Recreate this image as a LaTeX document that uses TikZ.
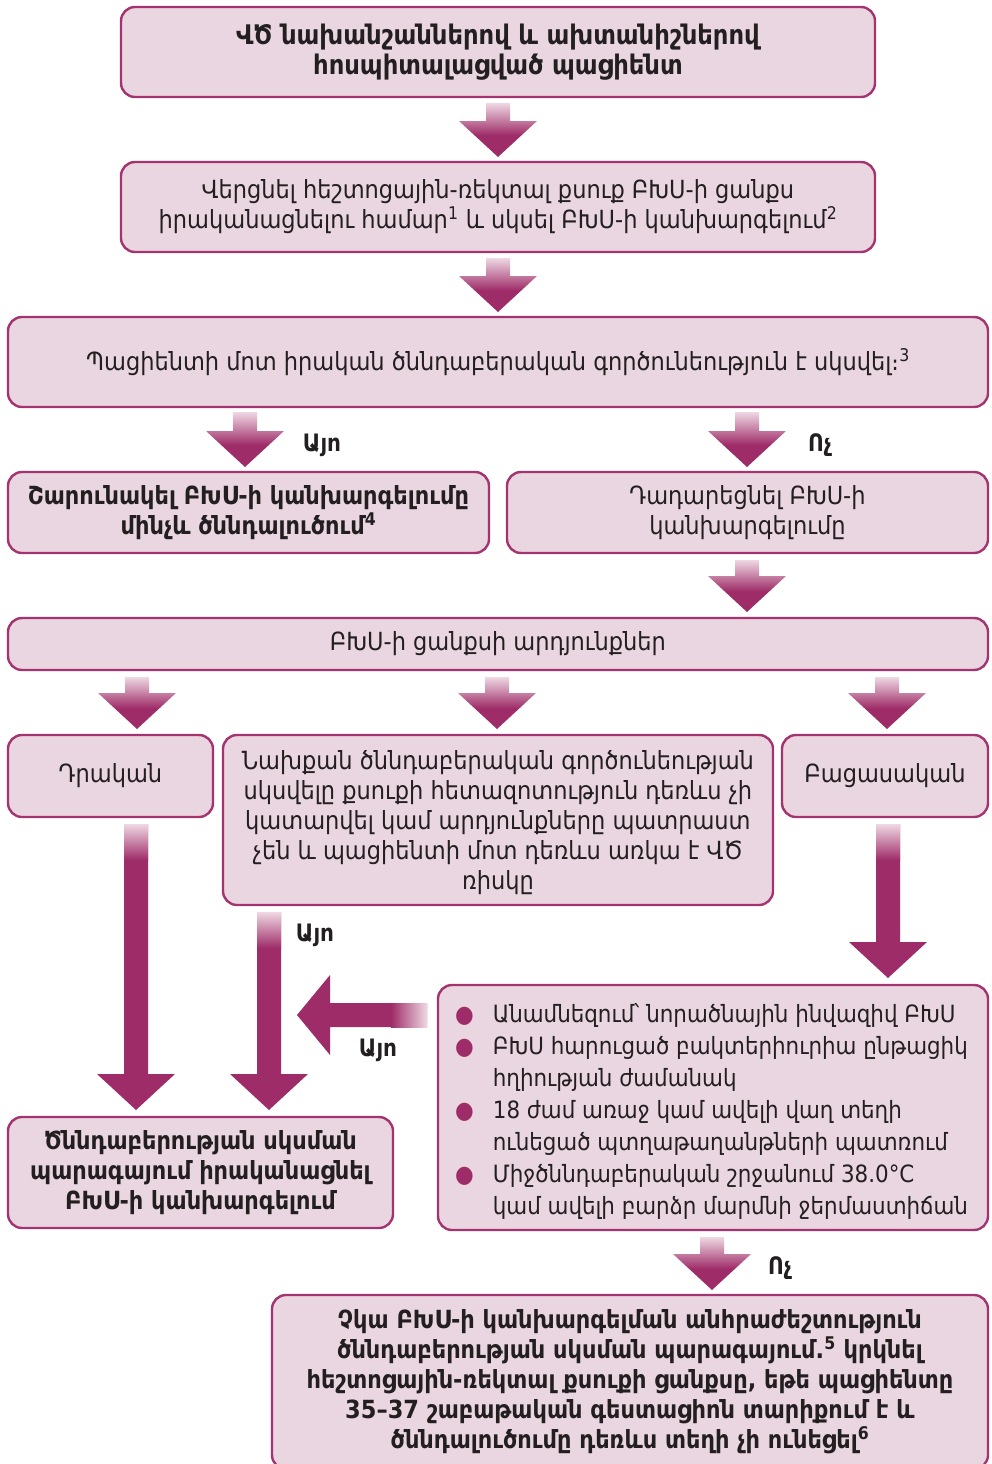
\documentclass[tikz,border=0pt]{standalone}
\usepackage{fontspec}
\setmainfont{DejaVu Sans Condensed}[BoldFont={DejaVu Sans Condensed Bold}]
\usetikzlibrary{calc}
\definecolor{arrcol}{HTML}{9E2C68}
\definecolor{bordcol}{HTML}{A3346F}
\definecolor{fillcol}{HTML}{EAD6E0}
\definecolor{fadecol}{HTML}{EFD8E3}
\definecolor{txtcol}{HTML}{231F20}
\pgfdeclareverticalshading{arrshort}{100bp}{color(0bp)=(arrcol); color(25bp)=(arrcol); color(45bp)=(arrcol); color(75bp)=(fadecol); color(100bp)=(fadecol)}
\newcommand\sups[1]{\textsuperscript{#1}}
\newcommand\shortarr[2]{%
  \shade[shading=arrshort] let \p1=(#1), \p2=(#2) in
    (\x1-12,\y1) -- (\x1+12,\y1) -- (\x1+12,\y2+36) -- (\x1+39,\y2+36) -- (\x1,\y2)
    -- (\x1-39,\y2+36) -- (\x1-12,\y2+36) -- cycle;}
\newcommand\longarr[2]{%
  \fill[arrcol] let \p1=(#1), \p2=(#2) in
    (\x1-12,\y1) -- (\x1+12,\y1) -- (\x1+12,\y2+36) -- (\x1+39,\y2+36) -- (\x1,\y2)
    -- (\x1-39,\y2+36) -- (\x1-12,\y2+36) -- cycle;
  \shade[top color=fadecol, bottom color=arrcol] let \p1=(#1) in
    (\x1-12,\y1) rectangle (\x1+12,\y1-36);}
\newcommand\leftarr[2]{%
  \fill[arrcol] let \p1=(#1), \p2=(#2) in
    (\x1,\y1+12) -- (\x2+33,\y1+12) -- (\x2+33,\y1+40) -- (\x2,\y1)
    -- (\x2+33,\y1-40) -- (\x2+33,\y1-12) -- (\x1,\y1-12) -- cycle;
  \shade[left color=arrcol, right color=fadecol] let \p1=(#1) in
    (\x1-36,\y1-12) rectangle (\x1,\y1+12);}
\tikzset{
  box/.style={draw=bordcol, line width=2.4pt, fill=fillcol, rounded corners=14pt,
    align=center, text=txtcol, font=\fontsize{25}{30}\selectfont, inner sep=0pt},
  bbox/.style={box, font=\fontsize{25}{30}\selectfont\bfseries},
  lbl/.style={text=txtcol, font=\fontsize{24}{26}\selectfont\bfseries, inner sep=0pt},
  listtxt/.style={text=txtcol, align=left, inner sep=0pt, anchor=west},
}
\begin{document}
\begin{tikzpicture}[x=1pt,y=1pt]
\useasboundingbox (0,0) rectangle (992,-1464);
% boxes
\node[bbox, font=\fontsize{27}{30}\selectfont\bfseries, minimum width=754, minimum height=90] (b1) at (498,-52)
  {ՎԾ նախանշաններով և ախտանիշներով\\ հոսպիտալացված պացիենտ};
\node[box, minimum width=754, minimum height=90] (b2) at (498,-207)
  {Վերցնել հեշտոցային-ռեկտալ քսուք ԲԽՍ-ի ցանքս\\ իրականացնելու համար\sups{1} և սկսել ԲԽՍ-ի կանխարգելում\sups{2}};
\node[box, minimum width=980, minimum height=90] (b3) at (498,-362)
  {Պացիենտի մոտ իրական ծննդաբերական գործունեություն է սկսվել։\sups{3}};
\node[bbox, minimum width=481, minimum height=81] (b4a) at (248.5,-512.5)
  {Շարունակել ԲԽՍ-ի կանխարգելումը\\ մինչև ծննդալուծում\sups{4}};
\node[box, minimum width=481, minimum height=81] (b4b) at (747.5,-512.5)
  {Դադարեցնել ԲԽՍ-ի\\ կանխարգելումը};
\node[box, minimum width=980, minimum height=52] (b5) at (498,-644)
  {ԲԽՍ-ի ցանքսի արդյունքներ};
\node[box, minimum width=205, minimum height=82] (b6a) at (110.5,-776) {Դրական};
\node[box, minimum width=550, minimum height=170] (b6b) at (498,-820)
  {\rule{0pt}{24pt}Նախքան ծննդաբերական գործունեության\\ սկսվելը քսուքի հետազոտություն դեռևս չի\\ կատարվել կամ արդյունքները պատրաստ\\ չեն և պացիենտի մոտ դեռևս առկա է ՎԾ\\ ռիսկը};
\node[box, minimum width=206, minimum height=82] (b6c) at (885,-776) {Բացասական};
\node[box, minimum width=550, minimum height=245] (b7) at (713,-1107.5) {};
\node[listtxt] (b7t) at (455,-1112)
  {\fontsize{23.8}{32}\selectfont
   \begin{tabular}{@{}l@{\hspace{19pt}}l@{}}
   {\color{arrcol}●} & Անամնեզում՝ նորածնային ինվազիվ ԲԽՍ\\
   {\color{arrcol}●} & ԲԽՍ հարուցած բակտերիուրիա ընթացիկ\\
    & հղիության ժամանակ\\
   {\color{arrcol}●} & 18 ժամ առաջ կամ ավելի վաղ տեղի\\
    & ունեցած պտղաթաղանթների պատռում\\
   {\color{arrcol}●} & Միջծննդաբերական շրջանում 38.0°C\\
    & կամ ավելի բարձր մարմնի ջերմաստիճան
   \end{tabular}};
\node[bbox, minimum width=385, minimum height=111] (b8) at (200.5,-1172.5)
  {Ծննդաբերության սկսման\\ պարագայում իրականացնել\\ ԲԽՍ-ի կանխարգելում};
\node[bbox, minimum width=716, minimum height=174] (b9) at (630,-1382)
  {Չկա ԲԽՍ-ի կանխարգելման անհրաժեշտություն\\ ծննդաբերության սկսման պարագայում.\sups{5} կրկնել\\ հեշտոցային-ռեկտալ քսուքի ցանքսը, եթե պացիենտը\\ 35–37 շաբաթական գեստացիոն տարիքում է և\\ ծննդալուծումը դեռևս տեղի չի ունեցել\sups{6}};
% arrow end points
\coordinate (a1s) at (498,-103);  \coordinate (a1e) at (498,-157);
\coordinate (a2s) at (498,-258);  \coordinate (a2e) at (498,-312);
\coordinate (a3s) at (245,-412);  \coordinate (a3e) at (245,-467);
\coordinate (a4s) at (747,-412);  \coordinate (a4e) at (747,-467);
\coordinate (a5s) at (747,-560);  \coordinate (a5e) at (747,-612);
\coordinate (a6s) at (137,-677);  \coordinate (a6e) at (137,-729);
\coordinate (a7s) at (497,-677);  \coordinate (a7e) at (497,-729);
\coordinate (a8s) at (887,-677);  \coordinate (a8e) at (887,-729);
\coordinate (a9s) at (136,-824);  \coordinate (a9e) at (136,-1110);
\coordinate (a10s) at (269,-912); \coordinate (a10e) at (269,-1110);
\coordinate (a11s) at (427,-1015); \coordinate (a11e) at (297,-1015);
\coordinate (a12s) at (888,-824); \coordinate (a12e) at (888,-978);
\coordinate (a13s) at (712,-1237); \coordinate (a13e) at (712,-1290);
\shortarr{a1s}{a1e}
\shortarr{a2s}{a2e}
\shortarr{a3s}{a3e}
\shortarr{a4s}{a4e}
\shortarr{a5s}{a5e}
\shortarr{a6s}{a6e}
\shortarr{a7s}{a7e}
\shortarr{a8s}{a8e}
\longarr{a9s}{a9e}
\longarr{a10s}{a10e}
\leftarr{a11s}{a11e}
\longarr{a12s}{a12e}
\shortarr{a13s}{a13e}
% labels
\node[lbl] (l1) at (322,-445) {Այո};
\node[lbl] (l2) at (820,-445) {Ոչ};
\node[lbl] (l3) at (315,-935) {Այո};
\node[lbl] (l4) at (378,-1050) {Այո};
\node[lbl] (l5) at (780,-1268) {Ոչ};
\end{tikzpicture}
\end{document}
